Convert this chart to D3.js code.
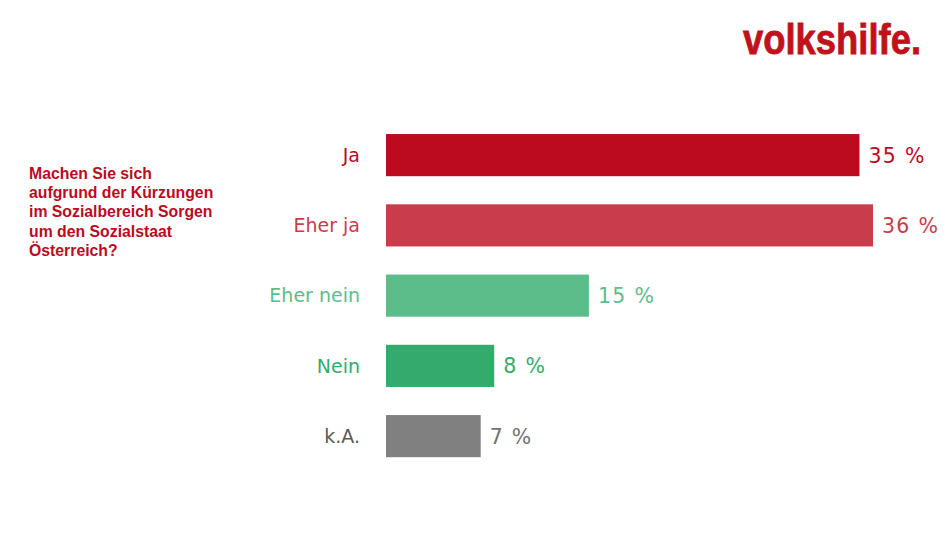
<!DOCTYPE html>
<html>
<head>
<meta charset="utf-8">
<script src="https://cdn.jsdelivr.net/npm/d3@7"></script>
<style>
  body { margin: 0; background: #fff; }
  svg { display: block; }
</style>
</head>
<body>
<script>
var categories = ["Ja", "Eher ja", "Eher nein", "Nein", "k.A."];
var values = [35, 36, 15, 8, 7];
var barColors = ["#bc0a1e", "#c93c4b", "#5cbd8b", "#34ab6c", "#808080"];
var labelColors = ["#bc0a1e", "#c93c4b", "#5cbd8b", "#34ab6c", "#5a5a5a"];
var valueColors = ["#bc0a1e", "#c93c4b", "#5cbd8b", "#34ab6c", "#737373"];
var questionLines = ["Machen Sie sich", "aufgrund der Kürzungen", "im Sozialbereich Sorgen", "um den Sozialstaat", "Österreich?"];

var width = 949, height = 534;

var svg = d3.select("body").append("svg")
    .attr("width", width)
    .attr("height", height);

// logo
svg.append("text")
    .attr("x", 743)
    .attr("y", 54)
    .attr("textLength", 178)
    .attr("lengthAdjust", "spacingAndGlyphs")
    .style("font-family", "'Liberation Sans Narrow', 'Liberation Sans', Arial, sans-serif")
    .style("font-weight", "bold")
    .style("font-size", "42px")
    .style("fill", "#c0121c")
    .style("stroke", "#c0121c")
    .style("stroke-width", "0.8px")
    .text("volkshilfe.");

// question
svg.append("text")
    .style("font-family", "'Liberation Sans', Arial, sans-serif")
    .style("font-weight", "bold")
    .style("font-size", "15.8px")
    .style("fill", "#bc0a1e")
    .selectAll("tspan")
    .data(questionLines)
    .enter().append("tspan")
        .attr("x", 29)
        .attr("y", function (d, i) { return 179 + i * 19.2; })
        .text(function (d) { return d; });

var x = d3.scaleLinear().domain([0, 36]).range([386, 873]);
var y = d3.scaleBand().domain(categories).range([120, 471.25]).paddingInner(0.4).paddingOuter(0.2);

var data = categories.map(function (c, i) { return {cat: c, val: values[i], i: i}; });

var chart = svg.append("g").attr("class", "bars");

chart.selectAll("rect")
    .data(data)
    .enter().append("rect")
        .attr("x", x(0))
        .attr("y", function (d) { return y(d.cat); })
        .attr("width", function (d) { return x(d.val) - x(0); })
        .attr("height", y.bandwidth())
        .attr("fill", function (d) { return barColors[d.i]; });

chart.selectAll("text.cat")
    .data(data)
    .enter().append("text")
        .attr("class", "cat")
        .attr("x", 360)
        .attr("y", function (d) { return y(d.cat) + y.bandwidth() / 2; })
        .attr("dy", "0.36em")
        .attr("text-anchor", "end")
        .style("font-family", "'DejaVu Sans', Verdana, sans-serif")
        .style("font-size", "19px")
        .style("fill", function (d) { return labelColors[d.i]; })
        .text(function (d) { return d.cat; });

chart.selectAll("text.val")
    .data(data)
    .enter().append("text")
        .attr("class", "val")
        .attr("x", function (d) { return x(d.val) + 9; })
        .attr("y", function (d) { return y(d.cat) + y.bandwidth() / 2; })
        .attr("dy", "0.37em")
        .style("font-family", "'DejaVu Sans', Verdana, sans-serif")
        .style("font-size", "20.5px")
        .style("letter-spacing", "1.3px")
        .style("fill", function (d) { return valueColors[d.i]; })
        .text(function (d) { return d.val + " %"; });
</script>
</body>
</html>
